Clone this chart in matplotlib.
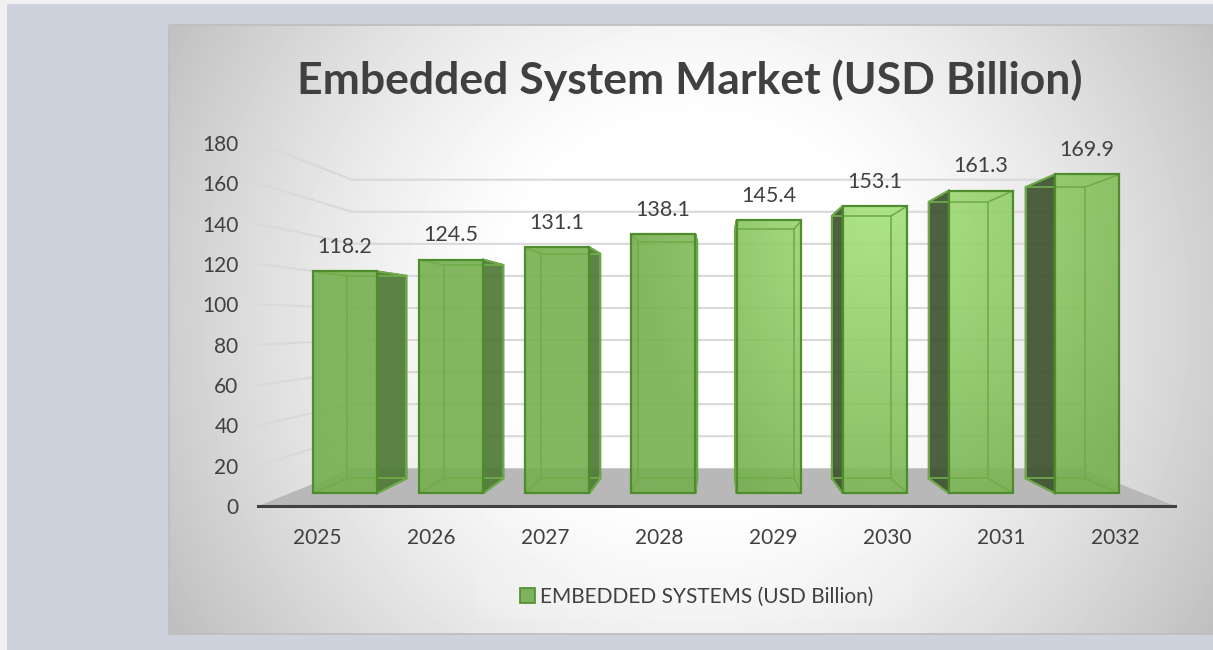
import matplotlib
matplotlib.use('Agg')
import matplotlib.pyplot as plt
import numpy as np
from matplotlib.colors import to_rgb
from matplotlib.patches import Patch, Polygon, Rectangle

# Market size per year
years = ['2025', '2026', '2027', '2028', '2029', '2030', '2031', '2032']
values = [118.2, 124.5, 131.1, 138.1, 145.4, 153.1, 161.3, 169.9]
y_ticks = [0, 20, 40, 60, 80, 100, 120, 140, 160, 180]

title = 'Embedded System Market (USD Billion)'
legend_label = 'EMBEDDED SYSTEMS (USD Billion)'

W, H = 1213, 650
TEXT = '#404040'
GRID = '#d9d9d9'
EDGE = '#4f8c2c'
INNER = '#70ad4a'

# size of the plot box in pixels
PX_LEFT, PX_RIGHT, PX_BASE, PX_TOP = 258, 1175, 506, 143
PX_FIRST, PX_STEP = 317, 114
PX_PER_UNIT = (PX_BASE - PX_TOP) / 180

# perspective: everything shrinks towards a vanishing point
VP_X, VP_Y = 3.504, 91.2
S_BACK, S_BAR_FRONT, S_BAR_BACK = 0.795, 0.93, 0.85
BAR_W = 0.61


def project(x, v, s):
    return VP_X + (x - VP_X) * s, VP_Y + (v - VP_Y) * s


fig = plt.figure(figsize=(W / 100, H / 100), dpi=100, facecolor='#f0f0f0')

# page and chart panel behind everything
bg = fig.add_axes([0, 0, 1, 1], zorder=0)
bg.set_xlim(0, W)
bg.set_ylim(H, 0)
bg.axis('off')
bg.add_patch(Rectangle((7, 4), W, H, color='#cdd2dc', lw=0, zorder=0))
px, py = np.meshgrid(np.arange(169, W), np.arange(25, 634))
r = np.hypot((px - 695) / 522, (py - 315) / 520)
shade = 1 - 0.25 * np.clip((r - 0.35) / 0.81, 0, 1) ** 1.3
bg.imshow(shade, extent=(169, W, 634, 25), cmap='gray', vmin=0, vmax=1, aspect='auto', zorder=1)
bg.plot([169, 169, W], [634, 25, 25], color='#bdbdbd', lw=1.2, zorder=2)
bg.plot([169, W], [634, 634], color='#bdbdbd', lw=1.2, zorder=2)
bg.add_patch(Rectangle((476, 573), 436, 45, color='white', alpha=0.12, lw=0, zorder=2))
bg.set_xlim(0, W)
bg.set_ylim(H, 0)

ax = fig.add_axes([PX_LEFT / W, 1 - PX_BASE / H, (PX_RIGHT - PX_LEFT) / W, (PX_BASE - PX_TOP) / H], zorder=1)
ax.patch.set_alpha(0)
xlim = ((PX_LEFT - PX_FIRST) / PX_STEP, (PX_RIGHT - PX_FIRST) / PX_STEP)

# floor
floor = [project(xlim[0], 0, 1), project(xlim[1], 0, 1), project(xlim[1], 0, S_BACK), project(xlim[0], 0, S_BACK)]
ax.add_patch(Polygon(floor, color='#b8b8b8', lw=0, zorder=1))

# gridlines on the side wall and back wall
for t in y_ticks[1:]:
    a = project(xlim[0], t, 1)
    b = project(xlim[0], t, S_BACK)
    c = project(xlim[1], t, S_BACK)
    ax.plot([a[0], b[0], c[0]], [a[1], b[1], c[1]], color=GRID, lw=1.5, zorder=1, clip_on=False)

LIGHT_X, LIGHT_Y = 4.85, 152
dark = np.array(to_rgb('#75af4e'))
light = np.array(to_rgb('#a7e37d'))


def face_image(x0, x1, y0, y1):
    # front faces get brighter near the light spot, faster falloff on its left
    gx, gy = np.meshgrid(np.linspace(x0, x1, 24), np.linspace(y0, y1, 96))
    dx = (gx - LIGHT_X) * PX_STEP
    dx = np.where(dx < 0, dx * 1.5, dx)
    d = np.hypot(dx, (gy - LIGHT_Y) * PX_PER_UNIT)
    t = np.clip(1 - d / 350, 0, 1)[..., None]
    rgb = dark + (light - dark) * t
    return np.dstack([rgb, np.full(gx.shape, 0.9)])


for i, v in enumerate(values):
    xl, xr = i - BAR_W / 2, i + BAR_W / 2
    fbl, fbr = project(xl, 0, S_BAR_FRONT), project(xr, 0, S_BAR_FRONT)
    ftl, ftr = project(xl, v, S_BAR_FRONT), project(xr, v, S_BAR_FRONT)
    bbl, bbr = project(xl, 0, S_BAR_BACK), project(xr, 0, S_BAR_BACK)
    btl, btr = project(xl, v, S_BAR_BACK), project(xr, v, S_BAR_BACK)
    z = 2 + i * 0.01

    # dark side wall: right side left of the centre, left side after it
    if i < VP_X:
        side = [fbr, bbr, btr, ftr]
        side_col = '#4f7a36'
    else:
        side = [fbl, bbl, btl, ftl]
        side_col = '#3e5330'
    ax.add_patch(Polygon(side, facecolor=side_col, edgecolor=EDGE, lw=1.5, alpha=0.92, zorder=z))

    ax.imshow(face_image(fbl[0], fbr[0], fbl[1], ftl[1]), extent=(fbl[0], fbr[0], fbl[1], ftl[1]),
              origin='lower', aspect='auto', zorder=z + 0.001, interpolation='bilinear')

    # edges of the box seen through the front
    for p, q in [(bbl, bbr), (bbl, btl), (bbr, btr), (btl, btr), (fbl, bbl), (fbr, bbr), (ftl, btl), (ftr, btr)]:
        ax.plot([p[0], q[0]], [p[1], q[1]], color=INNER, lw=1.2, zorder=z + 0.002, solid_capstyle='round')
    ax.add_patch(Polygon([fbl, fbr, ftr, ftl], fill=False, edgecolor=EDGE, lw=1.6, zorder=z + 0.003))

    ax.annotate(f'{v:.1f}', xy=(i + (VP_X - i) * (1 - S_BAR_FRONT), ftl[1]), xytext=(0, 17.5),
                textcoords='offset points', ha='center', va='center', fontsize=15.5, color=TEXT, family='Lato', zorder=5)

ax.set_xlim(*xlim)
ax.set_ylim(0, 180)
ax.set_xticks(range(len(years)), years)
ax.set_yticks(y_ticks)
ax.tick_params(length=0, labelcolor=TEXT, labelsize=15)
ax.tick_params(axis='x', pad=16)
ax.tick_params(axis='y', pad=14)
for lab in ax.get_xticklabels() + ax.get_yticklabels():
    lab.set_family('Lato')
for name in ['top', 'left', 'right']:
    ax.spines[name].set_visible(False)
ax.spines['bottom'].set_color(TEXT)
ax.spines['bottom'].set_linewidth(2.2)
ax.spines['bottom'].set_zorder(4)

fig.text(690 / W, 1 - 80 / H, title, ha='center', va='center', fontsize=32, fontweight='bold', color=TEXT, family='Lato')

leg = fig.legend(handles=[Patch(facecolor='#7fb35b', edgecolor=EDGE, lw=1.2, label=legend_label)], frameon=False,
                 loc='center', bbox_to_anchor=(697 / W, 1 - 597 / H), prop={'family': 'Lato', 'size': 15},
                 labelcolor=TEXT, handlelength=0.7, handleheight=0.7, handletextpad=0.25)

fig.savefig('out.png', dpi=100, facecolor=fig.get_facecolor())
